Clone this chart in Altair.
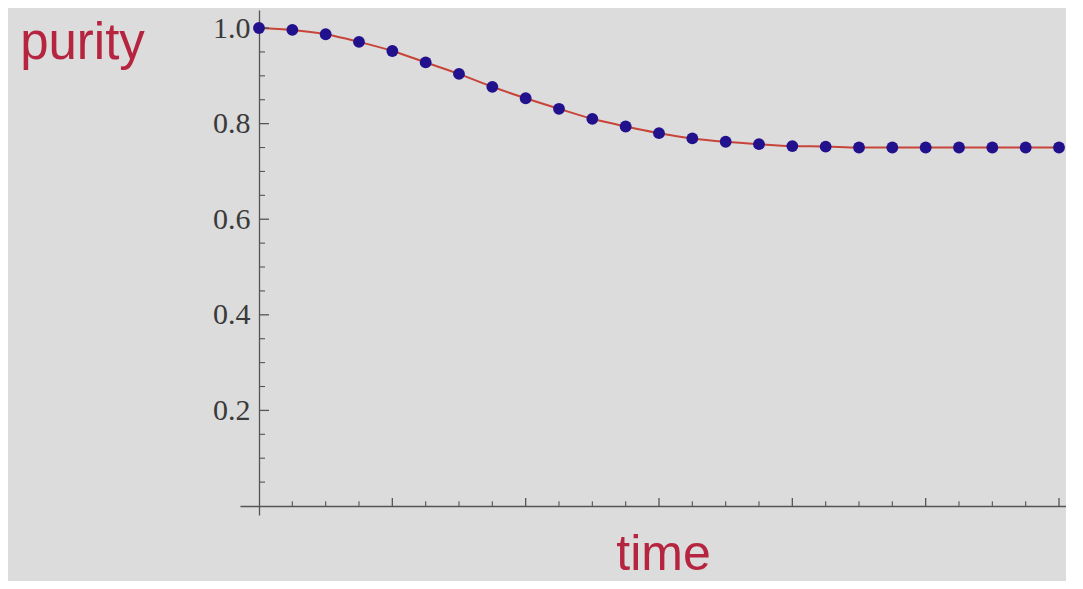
import altair as alt
import pandas as pd

# sampled time steps
time = [0, 1, 2, 3, 4, 5, 6, 7, 8, 9, 10, 11, 12,
        13, 14, 15, 16, 17, 18, 19, 20, 21, 22, 23, 24]
# purity values
purity = [1.000, 0.996, 0.987, 0.971, 0.952, 0.928, 0.904, 0.877, 0.853,
          0.831, 0.810, 0.794, 0.780, 0.769, 0.762, 0.757, 0.753, 0.752,
          0.750, 0.750, 0.750, 0.750, 0.750, 0.750, 0.750]

y_major = [0.2, 0.4, 0.6, 0.8, 1.0]
y_minor = [0.05, 0.1, 0.15, 0.25, 0.3, 0.35, 0.45, 0.5, 0.55,
           0.65, 0.7, 0.75, 0.85, 0.9, 0.95]
x_major = [4, 8, 12, 16, 20, 24]
x_minor = [1, 2, 3, 5, 6, 7, 9, 10, 11, 13, 14, 15, 17, 18, 19, 21, 22, 23]

df = pd.DataFrame({"time": time, "purity": purity})
df_ymaj = pd.DataFrame({"v": y_major})
df_ymin = pd.DataFrame({"v": y_minor})
df_xmaj = pd.DataFrame({"v": x_major})
df_xmin = pd.DataFrame({"v": x_minor})

RED = "#b5253f"
xscale = alt.Scale(domain=[-0.57, 24.21], nice=False, zero=False)
yscale = alt.Scale(domain=[-0.0188, 1.0377], nice=False, zero=False)

x_enc = alt.X(
    "time:Q", scale=xscale,
    axis=alt.Axis(labels=False, ticks=False, grid=False, offset=-9,
                  domainColor="#555555", domainWidth=1.3,
                  title="time", titleFont="Liberation Sans", titleFontSize=50,
                  titleFontWeight="normal", titleColor=RED,
                  titleX=423, titleY=63, titleAlign="center",
                  titleBaseline="alphabetic", titleAngle=0),
)
y_enc = alt.Y(
    "purity:Q", scale=yscale,
    axis=alt.Axis(values=y_major, format=".1f", ticks=False, grid=False,
                  offset=-19, domainColor="#555555", domainWidth=1.3,
                  labelFont="Liberation Serif", labelFontSize=30,
                  labelColor="#3a3a3a", labelPadding=9,
                  title="purity", titleFont="Liberation Sans", titleFontSize=51,
                  titleFontWeight="normal", titleColor=RED,
                  titleX=-177, titleY=48, titleAlign="center",
                  titleBaseline="alphabetic", titleAngle=0),
)

line = alt.Chart(df).mark_line(color="#c8443a", strokeWidth=2,
                               interpolate="monotone").encode(x=x_enc, y=y_enc)
pts = alt.Chart(df).mark_circle(color="#22118c", opacity=1, size=140).encode(
    x="time:Q", y="purity:Q")

tick_color = "#555555"
ymaj = alt.Chart(df_ymaj).mark_rule(color=tick_color, strokeWidth=1.3).encode(
    y="v:Q", x=alt.datum(0), x2=alt.datum(0.3))
ymin = alt.Chart(df_ymin).mark_rule(color=tick_color, strokeWidth=1.1).encode(
    y="v:Q", x=alt.datum(0), x2=alt.datum(0.18))
xmaj = alt.Chart(df_xmaj).mark_rule(color=tick_color, strokeWidth=1.3).encode(
    x="v:Q", y=alt.datum(0), y2=alt.datum(0.017))
xmin = alt.Chart(df_xmin).mark_rule(color=tick_color, strokeWidth=1.1).encode(
    x="v:Q", y=alt.datum(0), y2=alt.datum(0.01))

chart = alt.layer(line, ymaj, ymin, xmaj, xmin, pts).properties(
    width=826, height=505,
    autosize=alt.AutoSizeParams(type="none"),
    padding={"left": 232, "top": 2, "right": 0, "bottom": 66},
    background="#dcdcdc",
).configure_view(stroke=None)

chart.save("out.html", embed_options={"renderer": "svg", "actions": False})
